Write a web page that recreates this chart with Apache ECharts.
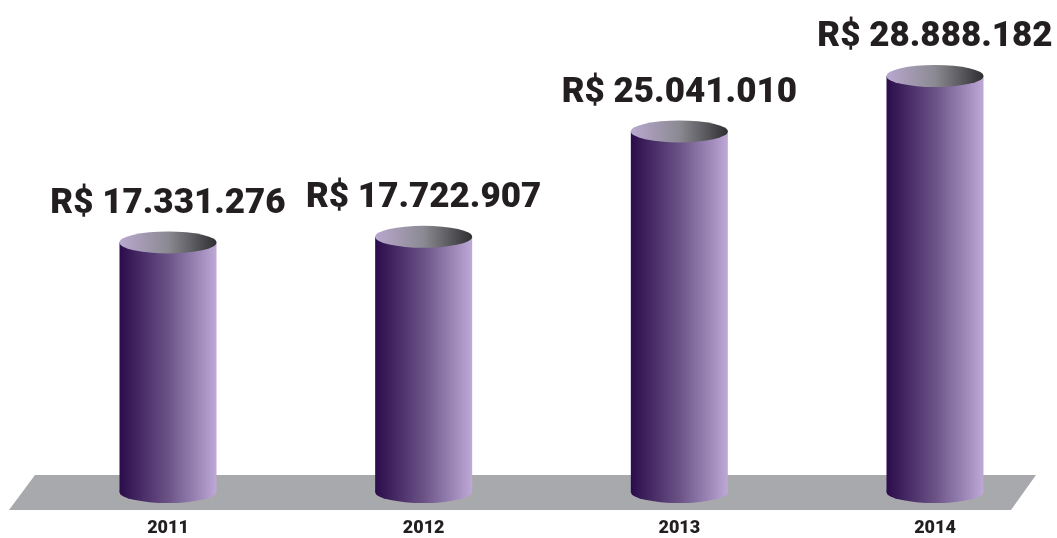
<!DOCTYPE html>
<html>
<head>
<meta charset="utf-8">
<script src="https://cdn.jsdelivr.net/npm/echarts@6/dist/echarts.min.js"></script>
<style>
  html, body { margin: 0; padding: 0; background: #fff; }
  #chart { width: 1057px; height: 538px; }
</style>
</head>
<body>
<div id="chart"></div>
<script>
// receita anual (R$)
const years = ["2011", "2012", "2013", "2014"];
const values = [17331276, 17722907, 25041010, 28888182];

function brl(v) {
  return "R$ " + String(v).replace(/\B(?=(\d{3})+(?!\d))/g, ".");
}

const bodyColor = new echarts.graphic.LinearGradient(0, 0, 1, 0, [
  { offset: 0, color: "#2a0c4a" },
  { offset: 0.5, color: "#6a5286" },
  { offset: 1, color: "#bda8d6" },
]);
const capColor = new echarts.graphic.LinearGradient(0, 0, 1, 0, [
  { offset: 0, color: "#b9a8cf" },
  { offset: 0.5, color: "#8b8a92" },
  { offset: 1, color: "#2f2f31" },
]);

let myChart = echarts.init(document.getElementById("chart"));
let option = {
  backgroundColor: "#fff",
  animation: false,
  grid: { left: 168, right: 122, top: 60, bottom: 46 },
  graphic: [
    {
      type: "polygon",
      z: -10,
      shape: { points: [[9, 510], [35, 475], [1036, 475], [1011, 510]] },
      style: { fill: "#a7a9ac" },
    },
  ],
  xAxis: {
    type: "category",
    data: years,
    boundaryGap: false,
    axisLine: { show: false },
    axisTick: { show: false },
    axisLabel: {
      margin: 27,
      color: "#231f20",
      fontSize: 18,
      fontWeight: 900,
      fontFamily: "Roboto",
    },
  },
  yAxis: {
    type: "value",
    min: 0,
    max: 30000000,
    show: false,
    splitLine: { show: false },
  },
  series: [
    {
      // base of the cylinder
      type: "pictorialBar",
      symbol: "circle",
      symbolSize: [97, 22],
      symbolPosition: "start",
      symbolOffset: [0, "50%"],
      itemStyle: { color: bodyColor },
      data: values,
      z: 2,
    },
    {
      type: "bar",
      barWidth: 97,
      clip: false,
      itemStyle: { color: bodyColor },
      data: values,
      z: 3,
      label: {
        show: true,
        position: "top",
        distance: 21,
        formatter: (p) => brl(p.value),
        color: "#231f20",
        fontSize: 35,
        fontWeight: 900,
        fontFamily: "Roboto",
      },
    },
    {
      // top cap
      type: "pictorialBar",
      symbol: "circle",
      symbolSize: [97, 22],
      symbolPosition: "end",
      symbolOffset: [0, "-50%"],
      itemStyle: { color: capColor },
      data: values,
      z: 4,
    },
  ],
};
myChart.setOption(option);
</script>
</body>
</html>
